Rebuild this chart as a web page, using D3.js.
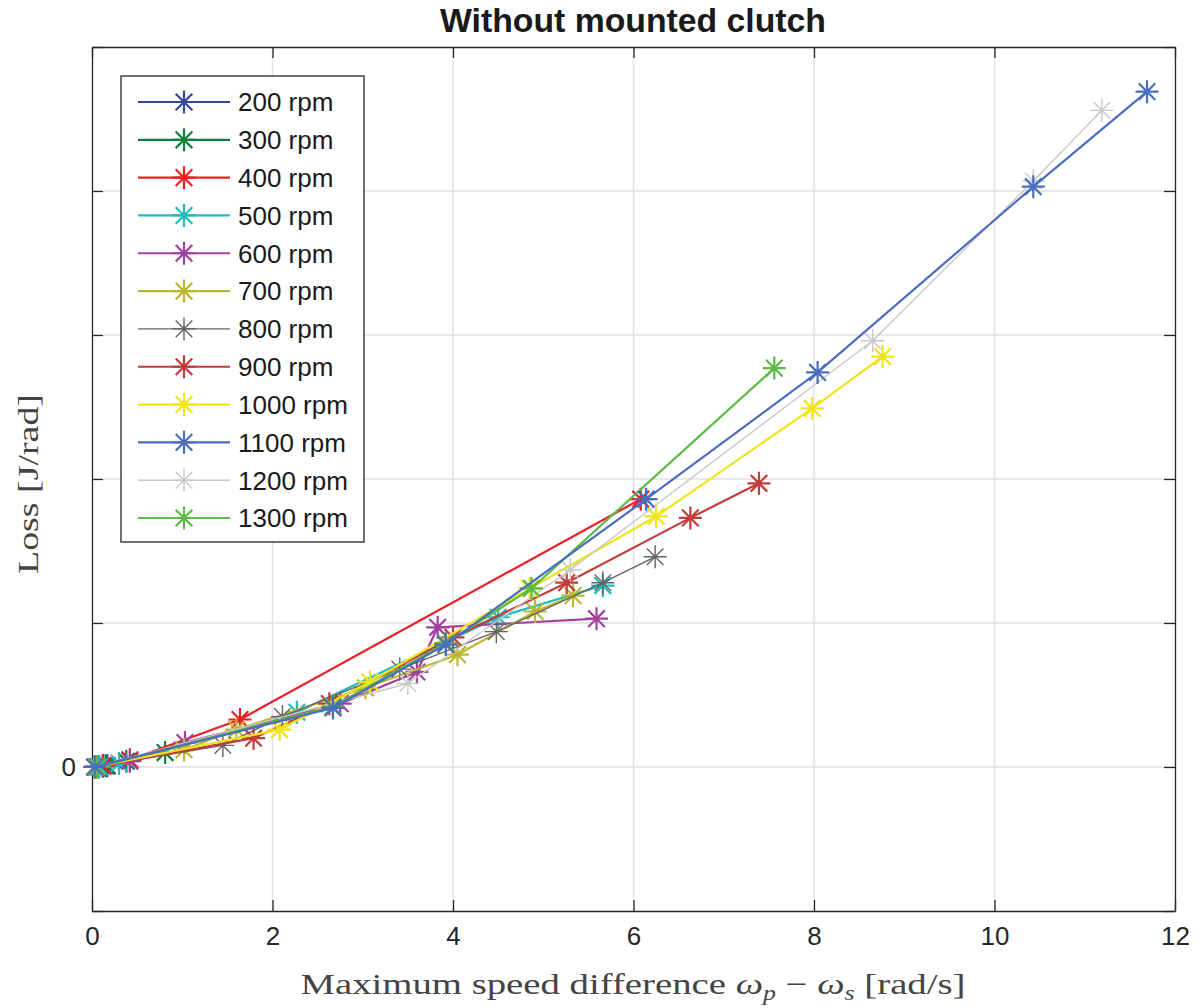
<!DOCTYPE html>
<html><head><meta charset="utf-8">
<script src="https://cdn.jsdelivr.net/npm/d3@7/dist/d3.min.js"></script>
<style>body{margin:0;background:#fff}</style>
</head><body>
<svg id="chart" width="1203" height="1008"></svg>
<script>
// ---------- data ----------
const seriesNames = ["200 rpm","300 rpm","400 rpm","500 rpm","600 rpm","700 rpm","800 rpm","900 rpm","1000 rpm","1100 rpm","1200 rpm","1300 rpm"];
const seriesColors = ["#33489e","#0f7f3c","#ee1d24","#22bcbc","#a2409f","#bbb830","#636363","#c13d3d","#eee41b","#4a6ebf","#c8c8c8","#5cba46"];
const s200  = [[0.03,0.0],[0.07,0.002],[0.12,0.005],[0.17,0.008]];
const s300  = [[0.05,0.0],[0.15,0.008],[0.38,0.04],[0.81,0.1]];
const s400  = [[0.04,0.002],[0.12,0.01],[0.42,0.05],[1.64,0.33],[6.08,1.86]];
const s500  = [[0.08,0.002],[0.3,0.025],[2.27,0.38],[4.5,1.04],[5.66,1.26]];
const s600  = [[0.05,0.0],[0.42,0.04],[1.03,0.17],[2.75,0.44],[3.6,0.66],[3.83,0.97],[5.59,1.03]];
const s700  = [[0.05,0.0],[1.02,0.12],[1.6,0.26],[3.03,0.55],[4.05,0.78],[4.91,1.08],[5.33,1.19]];
const s800  = [[0.03,0.0],[1.45,0.15],[2.11,0.35],[3.41,0.68],[4.48,0.94],[5.66,1.28],[6.24,1.46]];
const s900  = [[0.03,0.0],[1.79,0.2],[2.63,0.44],[4.0,0.9],[5.26,1.28],[6.63,1.73],[7.39,1.97]];
const s1000 = [[0.03,0.0],[2.08,0.26],[3.08,0.59],[4.85,1.24],[6.25,1.74],[7.98,2.49],[8.76,2.85]];
const s1100 = [[0.03,0.0],[2.67,0.41],[3.92,0.85],[6.14,1.86],[8.04,2.74],[10.43,4.03],[11.69,4.69]];
const s1200 = [[0.03,0.0],[3.5,0.58],[5.3,1.37],[8.65,2.96],[10.43,4.07],[11.19,4.56]];
const s1300 = [[0.05,0.0],[2.67,0.42],[3.92,0.86],[4.87,1.24],[7.56,2.77]];
const seriesValues = [s200,s300,s400,s500,s600,s700,s800,s900,s1000,s1100,s1200,s1300];

const xTicks = [0,2,4,6,8,10,12];
const xTickLabels = ["0","2","4","6","8","10","12"];
const yTicks = [-1,0,1,2,3,4,5];
const yTickLabels = ["","0","","","","",""];
const titleText = "Without mounted clutch";

// ---------- layout ----------
const L = 92, R = 1175, T = 47, B = 911;
const svg = d3.select("#chart");
const x = d3.scaleLinear().domain([0,12]).range([L,R]);
const y = d3.scaleLinear().domain([-1,5]).range([B,T]);
const axisColor = "#262626";
const thin = new Set(["800 rpm","1200 rpm"]);

svg.append("rect").attr("width",1203).attr("height",1008).attr("fill","#fff");

// grid
const grid = svg.append("g");
grid.selectAll("line.gx").data(xTicks.slice(1,-1)).join("line")
  .attr("x1",d=>x(d)).attr("x2",d=>x(d)).attr("y1",T).attr("y2",B)
  .attr("stroke","#e1e1e1").attr("stroke-width",1.4);
grid.selectAll("line.gy").data(yTicks.slice(1,-1)).join("line")
  .attr("y1",d=>y(d)).attr("y2",d=>y(d)).attr("x1",L).attr("x2",R)
  .attr("stroke","#e1e1e1").attr("stroke-width",1.4);

// axes
function styleAxis(g){
  g.select(".domain").attr("stroke",axisColor).attr("stroke-width",1.3);
  g.selectAll(".tick line").attr("stroke",axisColor).attr("stroke-width",1.3);
  g.selectAll("text").attr("fill",axisColor).attr("font-family","'Liberation Sans',Arial,sans-serif").attr("font-size",26);
}
svg.append("g").attr("transform",`translate(0,${B})`)
  .call(d3.axisBottom(x).tickValues(xTicks).tickFormat((d,i)=>xTickLabels[i]).tickSizeInner(-11).tickSizeOuter(0).tickPadding(16))
  .call(styleAxis);
svg.append("g").attr("transform",`translate(0,${T})`)
  .call(d3.axisTop(x).tickValues(xTicks).tickFormat("").tickSizeInner(-11).tickSizeOuter(0))
  .call(styleAxis);
svg.append("g").attr("transform",`translate(${L},0)`)
  .call(d3.axisLeft(y).tickValues(yTicks).tickFormat((d,i)=>yTickLabels[i]).tickSizeInner(-11).tickSizeOuter(0).tickPadding(16))
  .call(styleAxis);
svg.append("g").attr("transform",`translate(${R},0)`)
  .call(d3.axisRight(y).tickValues(yTicks).tickFormat("").tickSizeInner(-11).tickSizeOuter(0))
  .call(styleAxis);

// marker shape (MATLAB '*')
const mr = 11.5, ma = 8.3;
const starPath = `M${-mr},0H${mr}M0,${-mr}V${mr}M${-ma},${-ma}L${ma},${ma}M${-ma},${ma}L${ma},${-ma}`;

// series (draw order keeps 1100 on top)
const drawOrder = [0,1,2,3,4,5,6,7,8,10,11,9];
const line = d3.line().x(d=>x(d[0])).y(d=>y(d[1]));
const plot = svg.append("g");
drawOrder.forEach(i=>{
  const g = plot.append("g");
  const w = thin.has(seriesNames[i]) ? 1.4 : 2.2;
  g.append("path").datum(seriesValues[i]).attr("d",line)
    .attr("fill","none").attr("stroke",seriesColors[i]).attr("stroke-width",w).attr("stroke-linejoin","round");
  g.selectAll("path.m").data(seriesValues[i]).join("path").attr("class","m")
    .attr("transform",d=>`translate(${x(d[0])},${y(d[1])})`)
    .attr("d",starPath).attr("fill","none").attr("stroke",seriesColors[i]).attr("stroke-width",w);
});

// legend
const lg = svg.append("g");
lg.append("rect").attr("x",121).attr("y",76).attr("width",243).attr("height",466)
  .attr("fill","#fff").attr("stroke",axisColor).attr("stroke-width",1.3);
const rowY = d3.scaleLinear().domain([0,11]).range([102,518]);
seriesNames.forEach((n,i)=>{
  const w = thin.has(n) ? 1.4 : 2.2;
  const yy = rowY(i);
  lg.append("line").attr("x1",138).attr("x2",230).attr("y1",yy).attr("y2",yy)
    .attr("stroke",seriesColors[i]).attr("stroke-width",w);
  lg.append("path").attr("transform",`translate(184,${yy})`).attr("d",starPath)
    .attr("fill","none").attr("stroke",seriesColors[i]).attr("stroke-width",w);
  lg.append("text").attr("x",238).attr("y",yy).attr("dy","0.36em")
    .attr("font-family","'Liberation Sans',Arial,sans-serif").attr("font-size",26).attr("fill","#1a1a1a").text(n);
});

// title
svg.append("text").attr("x",633).attr("y",32).attr("text-anchor","middle")
  .attr("font-family","'Liberation Sans',Arial,sans-serif").attr("font-weight","bold").attr("font-size",33)
  .attr("fill","#1a1a1a").attr("textLength",386).attr("lengthAdjust","spacingAndGlyphs").text(titleText);

// x label
const xl = svg.append("text").attr("x",633).attr("y",994).attr("text-anchor","middle")
  .attr("font-family","'Liberation Serif','Times New Roman',serif").attr("font-size",30).attr("fill","#444")
  .attr("textLength",665).attr("lengthAdjust","spacingAndGlyphs");
xl.append("tspan").text("Maximum speed difference ");
xl.append("tspan").attr("font-style","italic").text("ω");
xl.append("tspan").attr("font-style","italic").attr("font-size",20).attr("dy",6).text("p");
xl.append("tspan").attr("dy",-6).text(" − ");
xl.append("tspan").attr("font-style","italic").text("ω");
xl.append("tspan").attr("font-style","italic").attr("font-size",20).attr("dy",6).text("s");
xl.append("tspan").attr("dy",-6).text(" [rad/s]");

// y label
svg.append("text").attr("transform","translate(38,484) rotate(-90)").attr("text-anchor","middle")
  .attr("font-family","'Liberation Serif','Times New Roman',serif").attr("font-size",30).attr("fill","#444")
  .attr("textLength",180).attr("lengthAdjust","spacingAndGlyphs")
  .text("Loss [J/rad]");
</script>
</body></html>
